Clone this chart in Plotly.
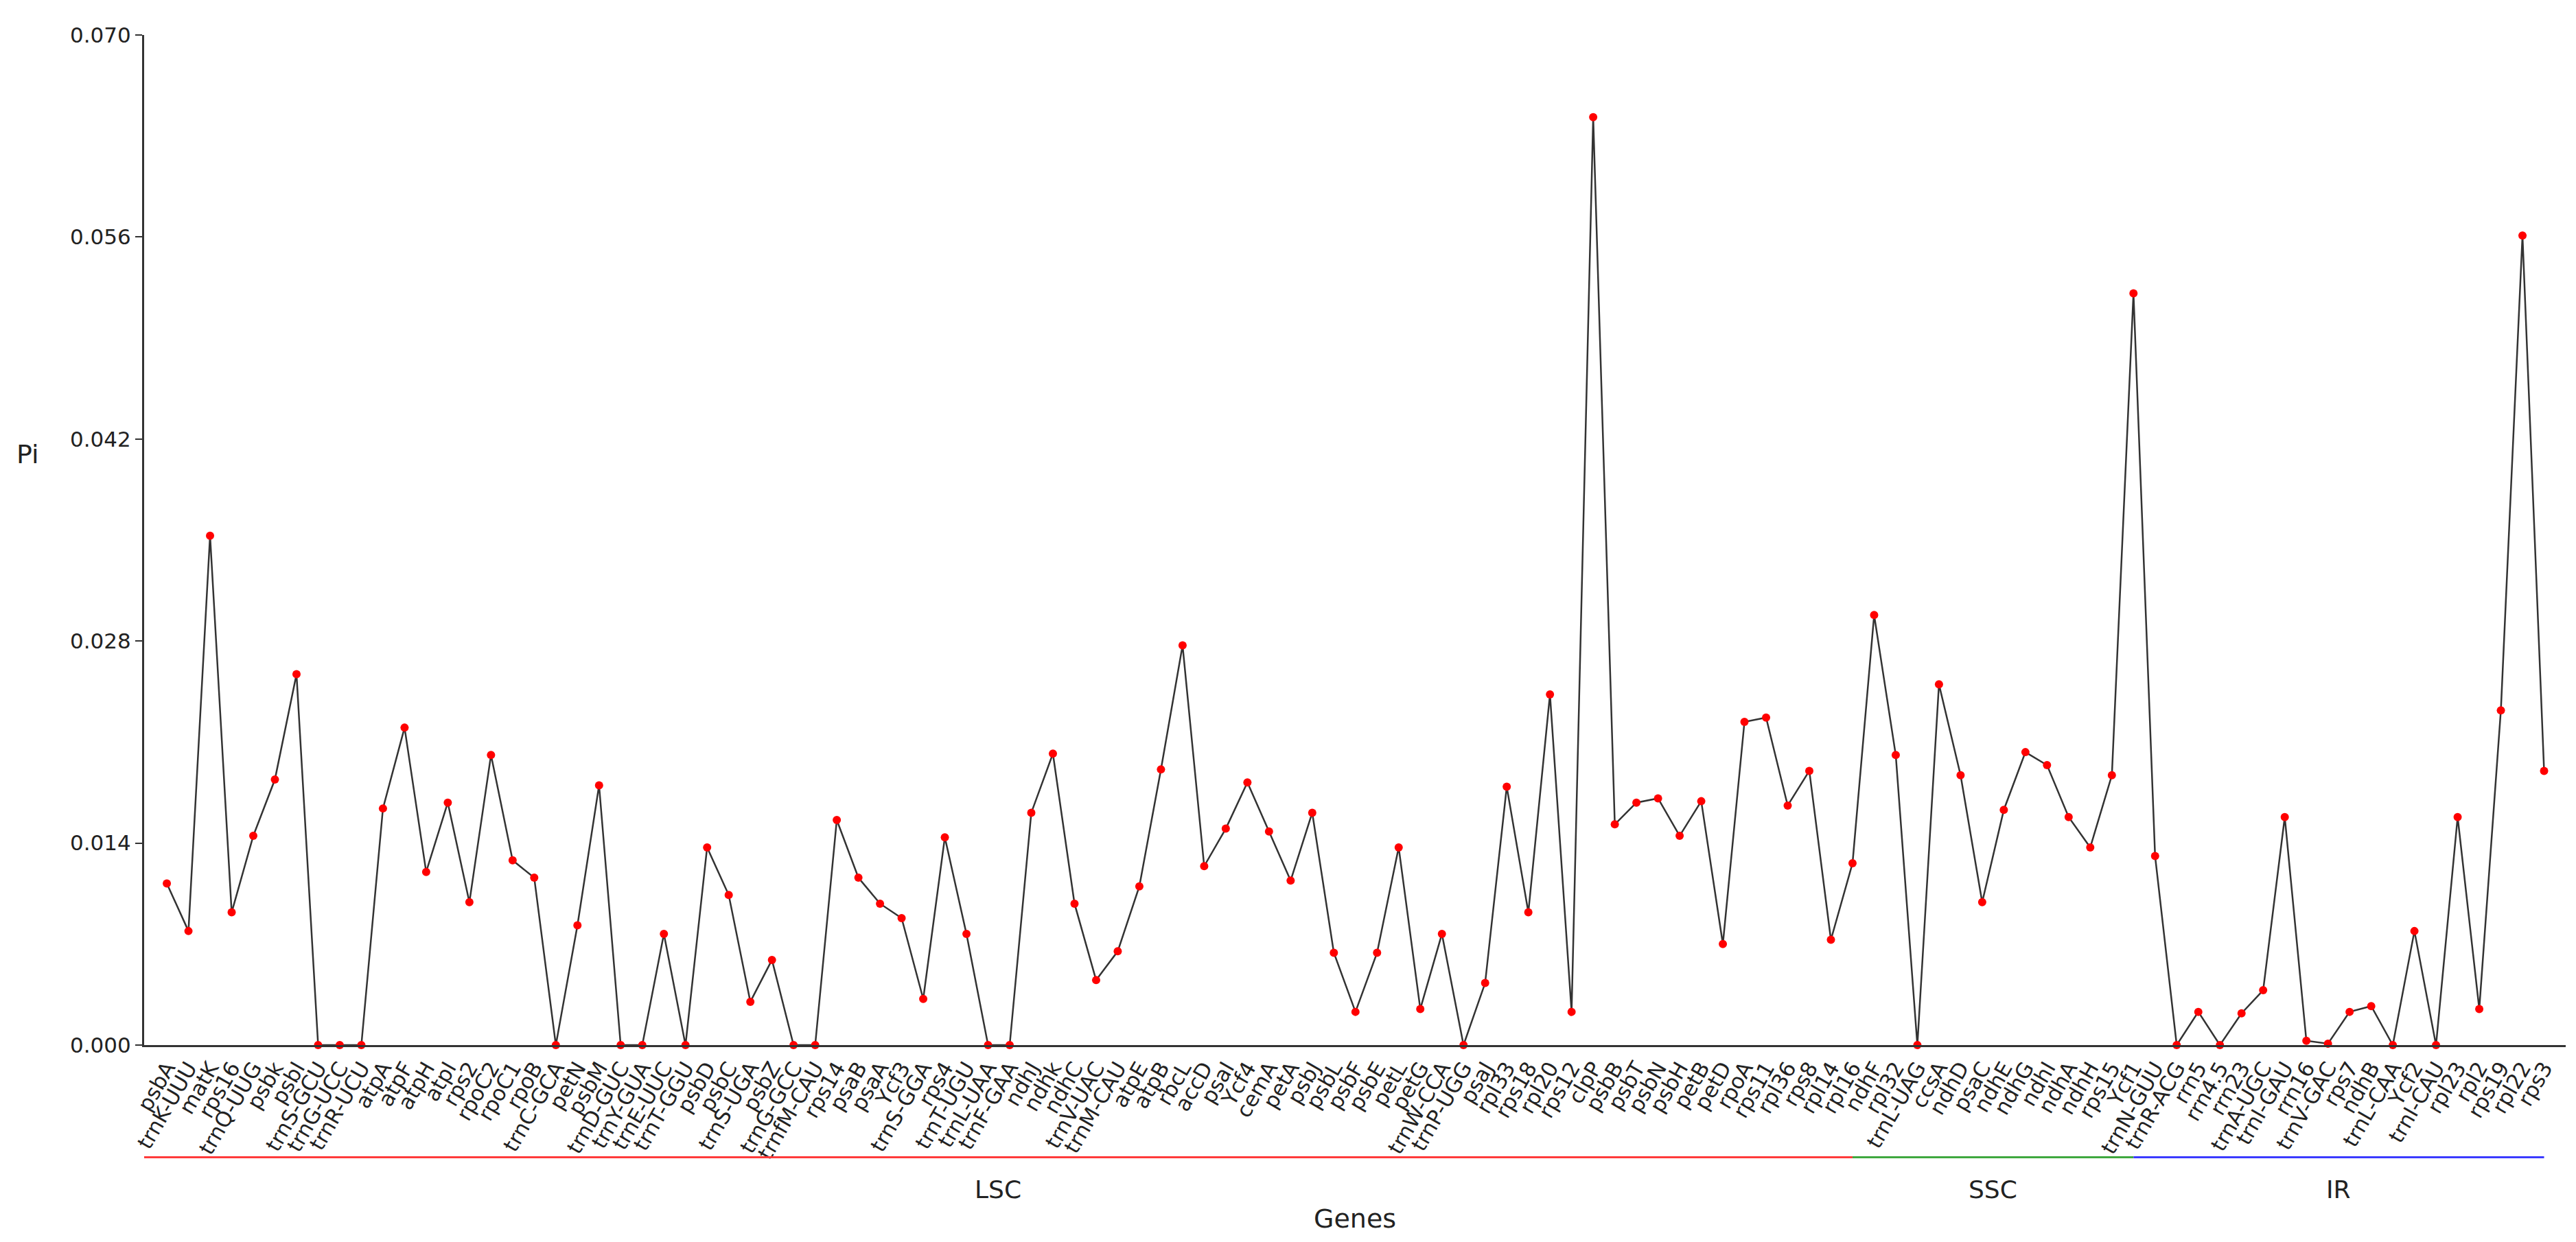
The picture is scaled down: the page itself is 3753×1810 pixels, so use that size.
import plotly.graph_objects as go

# Nucleotide diversity (Pi) per gene
genes = [
    "psbA", "trnK-UUU", "matK", "rps16", "trnQ-UUG", "psbk", "psbI", "trnS-GCU", "trnG-UCC", "trnR-UCU",
    "atpA", "atpF", "atpH", "atpI", "rps2", "rpoC2", "rpoC1", "rpoB", "trnC-GCA", "petN",
    "psbM", "trnD-GUC", "trnY-GUA", "trnE-UUC", "trnT-GGU", "psbD", "psbC", "trnS-UGA", "psbZ", "trnG-GCC",
    "trnfM-CAU", "rps14", "psaB", "psaA", "Ycf3", "trnS-GGA", "rps4", "trnT-UGU", "trnL-UAA", "trnF-GAA",
    "ndhJ", "ndhk", "ndhC", "trnV-UAC", "trnM-CAU", "atpE", "atpB", "rbcL", "accD", "psaI",
    "Ycf4", "cemA", "petA", "psbJ", "psbL", "psbF", "psbE", "petL", "petG", "trnW-CCA",
    "trnP-UGG", "psaJ", "rpl33", "rps18", "rpl20", "rps12", "clpP", "psbB", "psbT", "psbN",
    "psbH", "petB", "petD", "rpoA", "rps11", "rpl36", "rps8", "rpl14", "rpl16", "ndhF",
    "rpl32", "trnL-UAG", "ccsA", "ndhD", "psaC", "ndhE", "ndhG", "ndhI", "ndhA", "ndhH",
    "rps15", "Ycf1", "trnN-GUU", "trnR-ACG", "rrn5", "rrn4.5", "rrn23", "trnA-UGC", "trnI-GAU", "rrn16",
    "trnV-GAC", "rps7", "ndhB", "trnL-CAA", "Ycf2", "trnI-CAU", "rpl23", "rpl2", "rps19", "rpl22",
    "rps3",
]
pi_values = [
    0.0112, 0.0079, 0.0353, 0.0092, 0.0145, 0.0184, 0.0257, 0.0, 0.0, 0.0,
    0.0164, 0.0220, 0.0120, 0.0168, 0.0099, 0.0201, 0.0128, 0.0116, 0.0, 0.0083,
    0.0180, 0.0, 0.0, 0.0077, 0.0, 0.0137, 0.0104, 0.0030, 0.0059, 0.0,
    0.0, 0.0156, 0.0116, 0.0098, 0.0088, 0.0032, 0.0144, 0.0077, 0.0, 0.0,
    0.0161, 0.0202, 0.0098, 0.0045, 0.0065, 0.0110, 0.0191, 0.0277, 0.0124, 0.0150,
    0.0182, 0.0148, 0.0114, 0.0161, 0.0064, 0.0023, 0.0064, 0.0137, 0.0025, 0.0077,
    0.0, 0.0043, 0.0179, 0.0092, 0.0243, 0.0023, 0.0643, 0.0153, 0.0168, 0.0171,
    0.0145, 0.0169, 0.0070, 0.0224, 0.0227, 0.0166, 0.0190, 0.0073, 0.0126, 0.0298,
    0.0201, 0.0, 0.0250, 0.0187, 0.0099, 0.0163, 0.0203, 0.0194, 0.0158, 0.0137,
    0.0187, 0.0521, 0.0131, 0.0, 0.0023, 0.0, 0.0022, 0.0038, 0.0158, 0.0003,
    0.0001, 0.0023, 0.0027, 0.0, 0.0079, 0.0, 0.0158, 0.0025, 0.0232, 0.0561,
    0.0190,
]
y_ticks = [0.0, 0.014, 0.028, 0.042, 0.056, 0.070]

# Genome regions drawn under the axis, as spans of gene positions
regions = ["LSC", "SSC", "IR"]
region_start = [-1.05, 78, 91]
region_end = [78, 91, 110]
region_colors = ["#ff3b3b", "#3fa83f", "#3b3bff"]

FONT = "DejaVu Sans"
x_idx = list(range(len(genes)))

fig = go.Figure()
fig.add_trace(go.Scatter(
    x=x_idx,
    y=pi_values,
    mode="lines+markers",
    line=dict(color="#333333", width=2.5),
    marker=dict(color="#ff0000", size=12, line=dict(width=0)),
    cliponaxis=False,
    showlegend=False,
))

for name, x0, x1, col in zip(regions, region_start, region_end, region_colors):
    fig.add_shape(
        type="line", xref="x", yref="paper",
        x0=x0, x1=x1, y0=-0.111, y1=-0.111,
        line=dict(color=col, width=3),
    )
    fig.add_annotation(
        x=(x0 + x1) / 2, y=-0.143, xref="x", yref="paper",
        text=name, showarrow=False,
        font=dict(family=FONT, size=36, color="#222222"),
        xanchor="center", yanchor="middle",
    )

fig.add_annotation(
    x=(region_start[0] + region_end[-1] + 1) / 2, y=-0.172, xref="x", yref="paper",
    text="Genes", showarrow=False,
    font=dict(family=FONT, size=38, color="#222222"),
    xanchor="center", yanchor="middle",
)
fig.add_annotation(
    x=-0.048, y=0.585, xref="paper", yref="paper",
    text="Pi", showarrow=False,
    font=dict(family=FONT, size=38, color="#222222"),
    xanchor="center", yanchor="middle",
)

fig.update_layout(
    width=3753,
    height=1810,
    margin=dict(l=202, r=23, t=43, b=295),
    paper_bgcolor="white",
    plot_bgcolor="white",
    font=dict(family=FONT, size=30, color="#222222"),
)
fig.update_xaxes(
    range=[-1.05, 111],
    tickmode="array",
    tickvals=x_idx,
    ticktext=genes,
    tickangle=-60,
    ticks="",
    showgrid=False,
    zeroline=False,
    showline=True,
    linecolor="#333333",
    linewidth=3,
    tickfont=dict(family=FONT, size=31, color="#222222"),
)
fig.update_yaxes(
    range=[0, 0.070],
    tickmode="array",
    tickvals=y_ticks,
    ticktext=[f"{v:.3f}" for v in y_ticks],
    ticks="outside",
    ticklen=10,
    tickwidth=2,
    tickcolor="#333333",
    showgrid=False,
    zeroline=False,
    showline=True,
    linecolor="#333333",
    linewidth=3,
    tickfont=dict(family=FONT, size=31, color="#222222"),
)

fig.write_html("out.html")
